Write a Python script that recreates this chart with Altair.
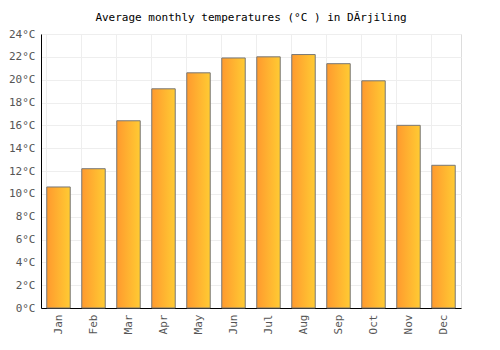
import altair as alt
import pandas as pd

months = ["Jan", "Feb", "Mar", "Apr", "May", "Jun", "Jul", "Aug", "Sep", "Oct", "Nov", "Dec"]
temps = [10.6, 12.2, 16.4, 19.2, 20.6, 21.9, 22.0, 22.2, 21.4, 19.9, 16.0, 12.5]
y_ticks = list(range(0, 25, 2))

df = pd.DataFrame({"month": months, "temp": temps})

font = "DejaVu Sans Mono"

chart = alt.Chart(df).mark_bar(
    fill=alt.Gradient(
        gradient="linear",
        stops=[alt.GradientStop(color="#FF9A2E", offset=0), alt.GradientStop(color="#FFCB33", offset=1)],
        x1=0, x2=1, y1=0, y2=0,
    ),
    stroke="#777777",
    strokeWidth=1,
).encode(
    x=alt.X("month:N", sort=months, title=None,
            scale=alt.Scale(paddingInner=0.33, paddingOuter=0.165),
            axis=alt.Axis(labelAngle=270, labelColor="#555555", labelFont=font, labelFontSize=11,
                          domainColor="#000000", domainWidth=1, ticks=False, labelPadding=6,
                          grid=True, gridColor="#eeeeee", bandPosition=0)),
    y=alt.Y("temp:Q", title=None,
            scale=alt.Scale(domain=[0, 24], nice=False),
            axis=alt.Axis(values=y_ticks, labelExpr="datum.value + '°C'", labelColor="#555555",
                          labelFont=font, labelFontSize=11, domainColor="#000000", domainWidth=1,
                          ticks=False, labelPadding=6, grid=True, gridColor="#eeeeee")),
).properties(
    width=420,
    height=274,
    title=alt.TitleParams("Average monthly temperatures (°C ) in DĂrjiling", font=font, fontSize=11,
                          fontWeight="normal", color="#000000", anchor="middle", offset=5),
    autosize=alt.AutoSizeParams(type="none"),
    padding={"left": 41, "top": 34, "right": 39, "bottom": 42},
).configure_view(stroke="#eeeeee").configure(background="white")

chart.save("out.html", embed_options={"renderer": "svg", "actions": False})
